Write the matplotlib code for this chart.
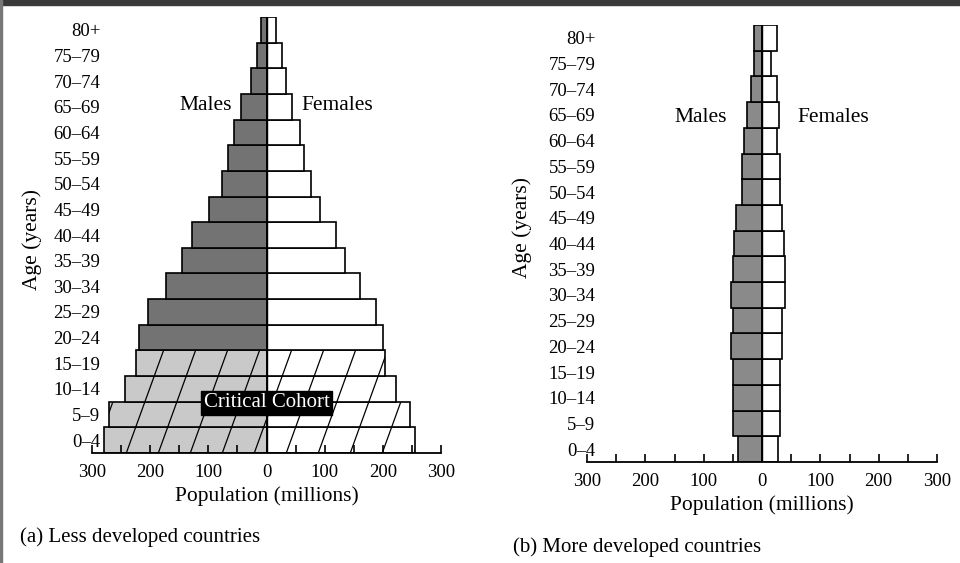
import numpy as np
import matplotlib.pyplot as plt
from matplotlib.patches import Rectangle

plt.rcParams['font.family'] = ['Liberation Serif', 'DejaVu Serif']

# age groups, bottom -> top
ages = ["0–4", "5–9", "10–14", "15–19", "20–24", "25–29", "30–34", "35–39",
        "40–44", "45–49", "50–54", "55–59", "60–64", "65–69", "70–74", "75–79", "80+"]

# (a) less developed countries, millions
males_a = [279, 270, 244, 224, 220, 203, 173, 145, 128, 99, 77, 67, 56, 44, 27, 17, 10]
females_a = [255, 246, 223, 203, 200, 188, 161, 135, 120, 92, 77, 65, 58, 43, 34, 26, 17]

# (b) more developed countries, millions
males_b = [41, 50, 50, 50, 53, 50, 53, 50, 48, 45, 34, 34, 31, 26, 19, 14, 14]
females_b = [27, 31, 31, 31, 34, 34, 39, 39, 38, 34, 31, 31, 26, 29, 26, 15, 26]

cohort = 4  # first four age groups = critical cohort

fig = plt.figure(figsize=(9.6, 5.63), dpi=100)
W, H = 960, 563


def ax_at(x0, x1, ytop, ybot):
    return fig.add_axes([x0 / W, 1 - ybot / H, (x1 - x0) / W, (ybot - ytop) / H])


def setup(ax):
    ax.set_xlim(-300, 300)
    ax.set_ylim(-0.5, 16.5)
    for s in ['left', 'top', 'right']:
        ax.spines[s].set_visible(False)
    ax.spines['bottom'].set_linewidth(1.3)
    ax.set_xticks(np.arange(-300, 301, 100))
    ax.set_xticks(np.arange(-300, 301, 50), minor=True)
    ax.set_xticklabels([str(abs(v)) for v in range(-300, 301, 100)])
    ax.tick_params(axis='x', which='both', direction='in', length=6, width=1.2,
                   labelsize=13.5, pad=8)
    ax.set_yticks(range(len(ages)))
    ax.set_yticklabels(ages)
    ax.tick_params(axis='y', length=0, labelsize=13.5, pad=-6)
    ax.set_xlabel("Population (millions)", fontsize=15.5, labelpad=4)
    ax.patch.set_alpha(0)


y = np.arange(len(ages))

# ---- (a)
ax1 = ax_at(92, 441, 17, 453)
setup(ax1)
mcol = ['#c9c9c9' if i < cohort else '#737373' for i in y]
mb = ax1.barh(y, [-v for v in males_a], height=1, color=mcol, edgecolor='black', linewidth=1.2)
fb = ax1.barh(y, females_a, height=1, color='white', edgecolor='black', linewidth=1.2)
ax1.axvline(0, color='black', lw=1.0, ymax=1)

# slanted hatch over the critical cohort
for patch in list(mb[:cohort]) + list(fb[:cohort]):
    for x0 in np.arange(-351, 300, 55):
        ln, = ax1.plot([x0, x0 + 64], [-0.5, 3.5], color='black', lw=0.9)
        ln.set_clip_path(patch)

ax1.text(0, 1.45, "Critical Cohort", color='white', fontsize=15, ha='center', va='center',
         bbox=dict(boxstyle='square,pad=0.12', fc='black', ec='black'))
ax1.text(-60, 13.05, "Males", fontsize=15.5, ha='right', va='center')
ax1.text(60, 13.05, "Females", fontsize=15.5, ha='left', va='center')
ax1.set_ylabel("Age (years)", fontsize=15.5)
ax1.yaxis.set_label_coords(-0.143, 0.49)

# ---- (b)
ax2 = ax_at(587, 937, 25, 462)
setup(ax2)
ax2.barh(y, [-v for v in males_b], height=1, color='#8a8a8a', edgecolor='black', linewidth=1.2)
ax2.barh(y, females_b, height=1, color='white', edgecolor='black', linewidth=1.2)
ax2.axvline(0, color='black', lw=1.0)
ax2.text(-60, 12.9, "Males", fontsize=15.5, ha='right', va='center')
ax2.text(60, 12.9, "Females", fontsize=15.5, ha='left', va='center')
ax2.set_ylabel("Age (years)", fontsize=15.5)
ax2.yaxis.set_label_coords(-0.156, 0.536)

fig.text(20 / W, 1 - 537 / H, "(a) Less developed countries", fontsize=15, va='center')
fig.text(513 / W, 1 - 547 / H, "(b) More developed countries", fontsize=15, va='center')

# scan border along the top and left edges
fig.patches.append(Rectangle((0, 1 - 5 / H), 1, 5 / H, transform=fig.transFigure,
                             color='#3a3a3a', zorder=0))
fig.patches.append(Rectangle((0, 0), 2 / W, 1, transform=fig.transFigure,
                             color='#777777', zorder=0))

fig.savefig("out.png", dpi=100)
